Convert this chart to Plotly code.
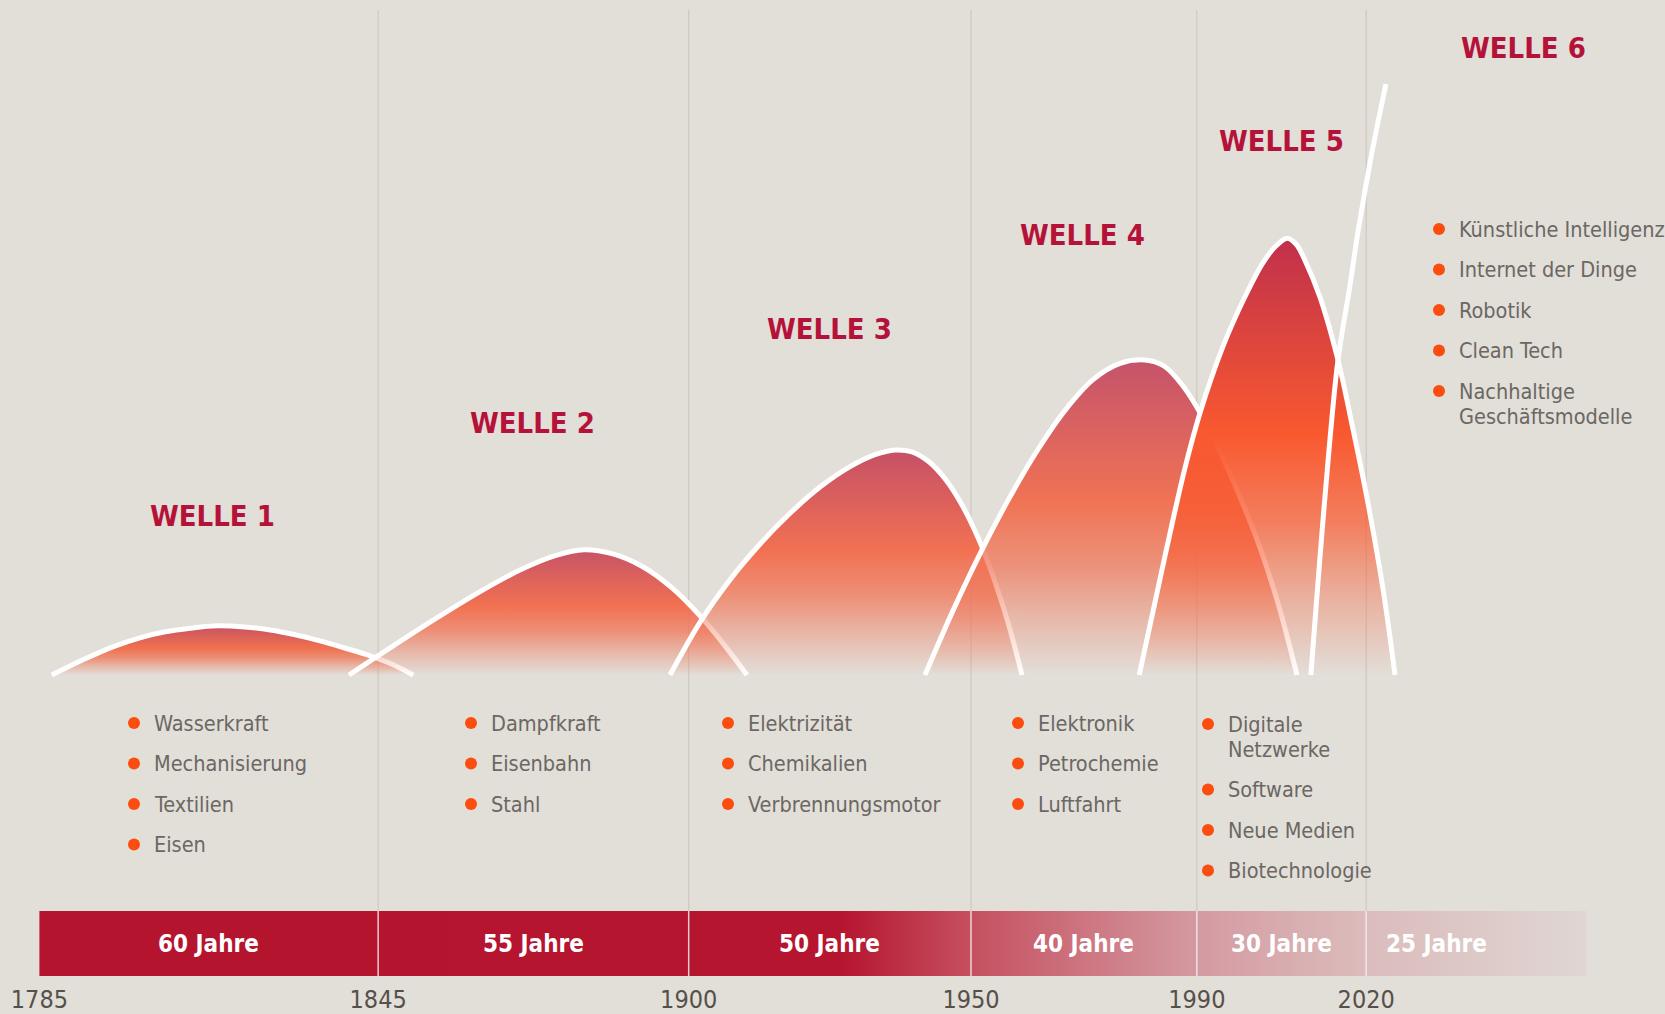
import plotly.graph_objects as go

# ---------------- data ----------------
BOUNDARY_YEARS = [1785, 1845, 1900, 1950, 1990, 2020]
CYCLE_DURATIONS = [60, 55, 50, 40, 30, 25]
CYCLE_LABELS = ["60 Jahre", "55 Jahre", "50 Jahre", "40 Jahre", "30 Jahre", "25 Jahre"]
BAR_END_YEAR = 2059
TICK_YEARS = [1785, 1845, 1900, 1950, 1990, 2020]
TICK_LABELS = ["1785", "1845", "1900", "1950", "1990", "2020"]

WAVE_TITLES = ["WELLE 1", "WELLE 2", "WELLE 3", "WELLE 4", "WELLE 5", "WELLE 6"]

W1_YEARS = [1787.2, 1793.1, 1798.0, 1802.8, 1807.3, 1811.7, 1816.5, 1821.4, 1825.9, 1830.3,
            1834.7, 1839.1, 1843.6, 1847.5, 1851.2]
W1_LEVEL = [0, 2.7, 4.7, 6.2, 7.2, 7.8, 8.2, 8.0, 7.5, 6.7, 5.7, 4.5, 3.2, 1.8, 0]
W2_YEARS = [1839.84, 1847.46, 1855.25, 1863.05, 1870.49, 1876.51, 1881.46, 1886.42, 1891.73,
            1897.05, 1902.01, 1906.26, 1910.33]
W2_LEVEL = [0, 4.73, 9.43, 13.9, 17.68, 19.95, 20.88, 20.23, 18.13, 14.53, 9.87, 5.07, 0]
W3_YEARS = [1896.69, 1902.0, 1907.33, 1912.64, 1917.95, 1923.26, 1928.58, 1933.0, 1936.54,
            1939.55, 1942.56, 1945.57, 1948.41, 1951.24, 1954.07, 1956.55, 1959.04]
W3_LEVEL = [0, 8.78, 15.9, 21.83, 26.95, 31.32, 34.73, 36.72, 37.5, 37.2, 35.53, 32.5, 28.33,
            22.9, 16.03, 8.78, 0]
W4_YEARS = [1941.85, 1946.81, 1951.77, 1956.73, 1961.69, 1966.65, 1971.61, 1976.39, 1980.82,
            1984.18, 1987.55, 1990.91, 1994.28, 1997.64, 2001.01, 2004.37, 2007.74]
W4_LEVEL = [0, 10.73, 20.53, 29.4, 37.33, 44.1, 49.23, 51.93, 52.5, 51.5, 48.17, 43.17, 36.83,
            29.67, 21.67, 12.0, 0]
W5_YEARS = [1979.8, 1984.4, 1987.9, 1990.6, 1994.6, 1998.5, 2001.7, 2004.0, 2006.0, 2007.6,
            2009.3, 2011.8, 2015.0, 2017.7, 2020.1, 2023.0, 2025.1]
W5_LEVEL = [0, 20.0, 34.5, 43.8, 54.7, 63.0, 68.7, 71.5, 72.8, 71.8, 68.8, 63.0, 52.5, 40.8,
            29.7, 14.2, 0]
W6_YEARS = [2010.2, 2012.7, 2015.0, 2017.0, 2018.6, 2021.0, 2023.5]
W6_LEVEL = [0, 29.7, 52.5, 64.2, 74.2, 87.0, 98.5]

W1_ITEMS = ["Wasserkraft", "Mechanisierung", "Textilien", "Eisen"]
W2_ITEMS = ["Dampfkraft", "Eisenbahn", "Stahl"]
W3_ITEMS = ["Elektrizität", "Chemikalien", "Verbrennungsmotor"]
W4_ITEMS = ["Elektronik", "Petrochemie", "Luftfahrt"]
W5_ITEMS = ["Digitale\nNetzwerke", "Software", "Neue Medien", "Biotechnologie"]
W6_ITEMS = ["Künstliche Intelligenz", "Internet der Dinge", "Robotik", "Clean Tech",
            "Nachhaltige\nGeschäftsmodelle"]

# ---------------- layout / style ----------------
W, H = 1665, 1014
PLOT_H = 982
X0_YEAR, X0_PX, PX_PER_YEAR = 1785, 39.4, 5.646
BASE_PX, PX_PER_UNIT = 675, 6.0


def px_x(px):
    return X0_YEAR + (px - X0_PX) / PX_PER_YEAR


def px_y(py):
    return (BASE_PX - py) / PX_PER_UNIT


X_RANGE = [px_x(0), px_x(W)]
Y_RANGE = [px_y(PLOT_H), px_y(0)]

BG = "#E2DED8"
CRIMSON = "#B5123A"
FONT = "DejaVu Sans Condensed, DejaVu Sans, sans-serif"
TEXT_GREY = "#6B6763"
BULLET = "#FA4D0F"

TITLE_POS = [(212, 516), (532, 423), (829, 329), (1082, 235), (1281, 141), (1523, 48)]
LIST_POS = [(134, 723), (471, 723), (728, 723), (1018, 723), (1208, 724), (1439, 229)]
TEXT_DX = 18
ROW_GAP = 40.5
LINE_GAP = 25

BAR_TOP_PX, BAR_BOT_PX = 911, 976
GRID_TOP_PX = 10

WAVE_TOP = ["#C85262", "#C75366", "#C55066", "#C5536A", "#C0304C"]
WAVE_MID = [(240, 112, 79), (241, 113, 82), (242, 113, 82), (240, 115, 85), (249, 89, 47)]


def rgba(c, a):
    return f"rgba({c[0]},{c[1]},{c[2]},{a})"


fig = go.Figure()

# timeline bar with horizontal gradient
span = BAR_END_YEAR - BOUNDARY_YEARS[0]
bar_stops = [(1785, "#B5142F"), (1927, "#B6152F"), (1950, "#C5505F"),
             (1990, "#D49AA1"), (2020, "#DBBCBC"), (BAR_END_YEAR, "#DFD6D3")]
bar_scale = [[(yr - BOUNDARY_YEARS[0]) / span, col] for yr, col in bar_stops]
yb0, yb1 = px_y(BAR_BOT_PX), px_y(BAR_TOP_PX)
fig.add_trace(go.Scatter(
    x=[BOUNDARY_YEARS[0], BAR_END_YEAR, BAR_END_YEAR, BOUNDARY_YEARS[0]],
    y=[yb0, yb0, yb1, yb1],
    mode="lines", fill="toself", line=dict(width=0),
    fillgradient=dict(type="horizontal", colorscale=bar_scale,
                      start=BOUNDARY_YEARS[0], stop=BAR_END_YEAR),
    hoverinfo="skip", showlegend=False))

# waves
waves = [(W1_YEARS, W1_LEVEL), (W2_YEARS, W2_LEVEL), (W3_YEARS, W3_LEVEL),
         (W4_YEARS, W4_LEVEL), (W5_YEARS, W5_LEVEL)]
for i, (xs, ys) in enumerate(waves):
    mid = WAVE_MID[i]
    scale = [[0, rgba(mid, 0)], [0.18, rgba(mid, 0.35)], [0.35, rgba(mid, 0.72)],
             [0.55, rgba(mid, 1)], [1, WAVE_TOP[i]]]
    fig.add_trace(go.Scatter(
        x=xs, y=ys, mode="lines", fill="toself",
        line=dict(color="white", width=5, shape="spline", smoothing=1.0),
        fillgradient=dict(type="vertical", colorscale=scale, start=0, stop=max(ys)),
        hoverinfo="skip", showlegend=False))

fig.add_trace(go.Scatter(
    x=W6_YEARS, y=W6_LEVEL, mode="lines",
    line=dict(color="white", width=5, shape="spline", smoothing=1.0),
    hoverinfo="skip", showlegend=False))

annotations = []
# titles
for (tx, ty), title in zip(TITLE_POS, WAVE_TITLES):
    annotations.append(dict(x=px_x(tx), y=px_y(ty), text=title, showarrow=False,
                            xanchor="center", yanchor="middle",
                            font=dict(family=FONT, size=29, color=CRIMSON, weight="bold")))

# lists
all_items = [W1_ITEMS, W2_ITEMS, W3_ITEMS, W4_ITEMS, W5_ITEMS, W6_ITEMS]
bx_all, by_all = [], []
for (bx, by), items in zip(LIST_POS, all_items):
    py = by
    for item in items:
        lines = item.split("\n")
        bx_all.append(px_x(bx))
        by_all.append(px_y(py))
        for j, ln in enumerate(lines):
            annotations.append(dict(x=px_x(bx + TEXT_DX), y=px_y(py + j * LINE_GAP), text=ln,
                                    showarrow=False, xanchor="left", yanchor="middle",
                                    font=dict(family=FONT, size=21.5, color=TEXT_GREY)))
        py += ROW_GAP + (len(lines) - 1) * LINE_GAP

fig.add_trace(go.Scatter(x=bx_all, y=by_all, mode="markers",
                         marker=dict(color=BULLET, size=12, line=dict(width=0)),
                         hoverinfo="skip", showlegend=False))

# bar labels
for start, dur, lab in zip(BOUNDARY_YEARS, CYCLE_DURATIONS, CYCLE_LABELS):
    annotations.append(dict(x=start + dur / 2, y=(yb0 + yb1) / 2, text=lab, showarrow=False,
                            xanchor="center", yanchor="middle",
                            font=dict(family=FONT, size=24, color="white", weight="bold")))

shapes = []
for yr in BOUNDARY_YEARS[1:]:
    shapes.append(dict(type="line", xref="x", yref="y", x0=yr, x1=yr,
                       y0=yb1, y1=px_y(GRID_TOP_PX), layer="below",
                       line=dict(color="#CAC5BC", width=1)))
    shapes.append(dict(type="line", xref="x", yref="y", x0=yr, x1=yr,
                       y0=yb0, y1=yb1, layer="above",
                       line=dict(color="rgba(246,236,236,0.85)", width=1.5)))

fig.update_layout(
    width=W, height=H,
    margin=dict(l=0, r=0, t=0, b=H - PLOT_H, pad=0, autoexpand=False),
    paper_bgcolor=BG, plot_bgcolor=BG,
    xaxis=dict(range=X_RANGE, showgrid=False, zeroline=False, showline=False, ticks="",
               tickvals=TICK_YEARS, ticktext=TICK_LABELS, fixedrange=True, automargin=False,
               tickfont=dict(family=FONT, size=25, color="#55514A")),
    yaxis=dict(range=Y_RANGE, visible=False, fixedrange=True, automargin=False),
    annotations=annotations, shapes=shapes, showlegend=False,
)

fig.write_html("out.html", config={"displayModeBar": False},
               post_script="document.body.style.margin='0';document.body.style.overflow='hidden';")
